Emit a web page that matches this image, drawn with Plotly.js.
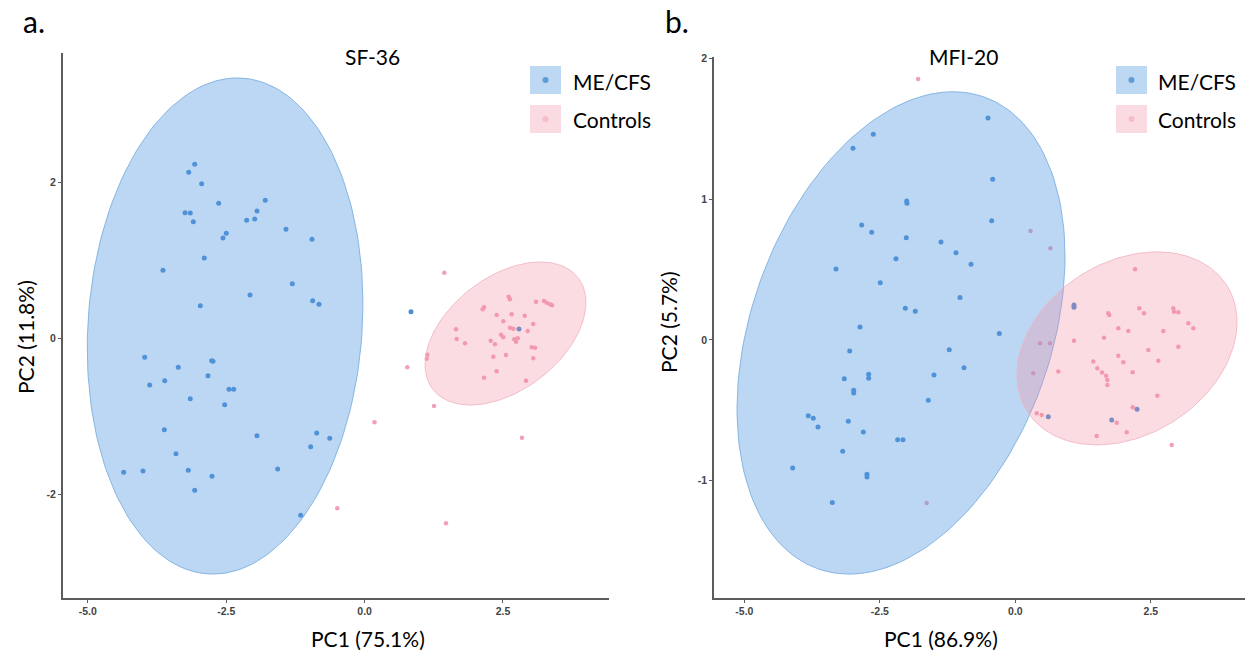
<!DOCTYPE html>
<html><head><meta charset="utf-8">
<script src="https://cdn.plot.ly/plotly-3.0.1.min.js"></script>
<style>html,body{margin:0;padding:0;background:#fff}#chart{width:1245px;height:651px}</style>
</head><body><div id="chart"></div>
<script>
// ---------- data ----------
const groupNames = ["ME/CFS", "Controls"];
const panelTitles = ["SF-36", "MFI-20"];
const panelLetters = ["a.", "b."];
const xTitles = ["PC1 (75.1%)", "PC1 (86.9%)"];
const yTitles = ["PC2 (11.8%)", "PC2 (5.7%)"];

const xTickVals = [-5.0, -2.5, 0.0, 2.5];
const xTickText = ["-5.0", "-2.5", "0.0", "2.5"];
const sf36YTickVals = [-2, 0, 2];
const sf36YTickText = ["-2", "0", "2"];
const mfi20YTickVals = [-1, 0, 1, 2];
const mfi20YTickText = ["-1", "0", "1", "2"];

// SF-36 ME/CFS scores
const sf36MecfsPC1 = [-3.069,-3.177,-2.943,-2.636,-1.794,-3.244,-3.149,-1.944,-2.130,-1.985,-3.094,-2.558,-2.498,-1.420,-0.950,-2.896,-3.642,-1.306,-2.070,-2.968,-0.938,-0.824,-3.972,-3.365,-2.762,-2.738,-2.829,-3.882,-3.610,-2.449,-2.365,-3.149,-2.527,-3.618,-1.944,-0.865,-0.630,-0.974,-3.407,-1.570,-4.352,-4.003,-3.185,-2.757,-3.069,-1.154,0.838,2.789];
const sf36MecfsPC2 = [2.227,2.124,1.978,1.727,1.765,1.606,1.603,1.628,1.509,1.526,1.491,1.282,1.342,1.394,1.265,1.026,0.868,0.696,0.551,0.414,0.478,0.432,-0.247,-0.376,-0.291,-0.299,-0.483,-0.603,-0.547,-0.658,-0.658,-0.778,-0.855,-1.176,-1.253,-1.218,-1.286,-1.394,-1.483,-1.679,-1.722,-1.705,-1.696,-1.773,-1.953,-2.273,0.337,0.115];
// SF-36 control scores
const sf36CtrlPC1 = [1.440,0.771,1.254,2.843,0.179,-0.493,1.470,2.603,2.626,2.133,2.157,3.096,3.241,3.289,3.349,3.385,2.386,2.657,2.892,2.505,1.651,2.626,2.686,3.047,2.946,2.464,2.505,2.704,2.766,2.735,1.664,1.814,2.278,2.355,3.018,3.078,1.133,1.122,2.325,2.554,3.047,2.386,2.157,2.915];
const sf36CtrlPC2 = [0.837,-0.376,-0.872,-1.278,-1.081,-2.183,-2.376,0.529,0.496,0.368,0.394,0.465,0.474,0.453,0.432,0.419,0.295,0.304,0.286,0.214,0.112,0.132,0.119,0.179,0.090,0.042,0.009,-0.017,-0.004,-0.047,-0.013,-0.068,-0.035,-0.081,-0.119,-0.124,-0.214,-0.265,-0.240,-0.218,-0.260,-0.427,-0.509,-0.547];

// MFI-20 ME/CFS scores
const mfi20MecfsPC1 = [-0.506,-2.622,-2.996,-0.419,-2.006,-2.000,-0.437,-2.836,-2.651,-2.013,-1.373,-1.096,-2.203,-0.819,-3.310,-2.493,-1.022,-2.031,-1.847,-2.867,-0.297,-1.220,-3.057,-0.948,-2.707,-2.707,-3.157,-1.502,-2.983,-2.983,-1.607,-3.821,-3.729,-3.642,-3.083,-2.806,-2.172,-2.074,-3.186,-4.109,-2.738,-2.738,-3.378,1.081,1.081,0.607,2.244,1.777];
const mfi20MecfsPC2 = [1.578,1.462,1.362,1.142,0.988,0.972,0.848,0.817,0.765,0.727,0.697,0.620,0.578,0.538,0.505,0.407,0.301,0.225,0.204,0.092,0.045,-0.069,-0.078,-0.197,-0.244,-0.272,-0.275,-0.249,-0.358,-0.377,-0.429,-0.538,-0.557,-0.618,-0.578,-0.654,-0.709,-0.709,-0.791,-0.910,-0.955,-0.974,-1.156,0.249,0.233,-0.545,-0.493,-0.569];
// MFI-20 control scores
const mfi20CtrlPC1 = [2.207,1.081,1.714,1.732,2.286,2.373,2.913,2.926,3.006,1.899,2.083,2.729,3.190,3.282,1.635,3.006,2.452,1.899,1.991,2.637,1.437,1.511,1.598,1.672,1.696,1.696,2.164,0.792,0.330,0.454,0.638,2.618,0.393,0.485,2.164,1.869,1.500,2.054,2.884,0.279,0.646,-1.795,-1.637];
const mfi20CtrlPC2 = [0.502,-0.005,0.190,0.178,0.225,0.190,0.225,0.201,0.197,0.083,0.064,0.064,0.119,0.083,0.016,-0.048,-0.071,-0.112,-0.158,-0.147,-0.154,-0.201,-0.232,-0.254,-0.284,-0.320,-0.230,-0.225,-0.237,-0.023,-0.023,-0.396,-0.521,-0.533,-0.478,-0.588,-0.682,-0.656,-0.746,0.775,0.652,1.855,-1.158];

// confidence ellipses: [centre x, centre y, top-vertex dx, top-vertex dy, horizontal conjugate half-width]
const sf36MecfsEllipse = [-2.52, 0.154, 0.22, 3.18, 2.48];
const sf36CtrlEllipse  = [2.545, 0.058, 0.632, 0.917, 1.309];
const mfi20MecfsEllipse = [-2.11, 0.050, 0.958, 1.714, 2.870];
const mfi20CtrlEllipse  = [2.059, -0.060, 0.553, 0.686, 1.953];

// ---------- styles ----------
const BLUE_PT = "rgb(78,140,210)";
const PINK_PT = "rgb(242,160,180)";
const BLUE_FILL = "rgba(86,156,226,0.40)";
const PINK_FILL = "rgba(244,140,162,0.30)";
const BLUE_LINE = "rgba(120,172,222,0.85)";
const PINK_LINE = "rgba(240,180,194,0.85)";
const W = 1245, H = 651;

function ellipse(p) {
  const xs = [], ys = [];
  const n = 180;
  for (let i = 0; i <= n; i++) {
    const t = 2 * Math.PI * i / n;
    xs.push(p[0] + p[2] * Math.cos(t) + p[4] * Math.sin(t));
    ys.push(p[1] + p[3] * Math.cos(t));
  }
  return {x: xs, y: ys};
}

function pts(x, y, color, size, ax, name) {
  return {type: "scatter", mode: "markers", x: x, y: y, xaxis: ax[0], yaxis: ax[1],
    name: name, showlegend: false, hoverinfo: "x+y",
    marker: {color: color, size: size, line: {width: 0}}};
}
function ell(p, fill, line, ax, name) {
  const e = ellipse(p);
  return {type: "scatter", mode: "lines", x: e.x, y: e.y, xaxis: ax[0], yaxis: ax[1],
    fill: "toself", fillcolor: fill, line: {color: line, width: 1}, name: name,
    showlegend: false, hoverinfo: "skip"};
}

const A = ["x", "y"], B = ["x2", "y2"];
const data = [
  pts(sf36MecfsPC1, sf36MecfsPC2, BLUE_PT, 5, A, groupNames[0]),
  pts(sf36CtrlPC1, sf36CtrlPC2, PINK_PT, 4.5, A, groupNames[1]),
  ell(sf36MecfsEllipse, BLUE_FILL, BLUE_LINE, A, groupNames[0]),
  ell(sf36CtrlEllipse, PINK_FILL, PINK_LINE, A, groupNames[1]),
  pts(mfi20MecfsPC1, mfi20MecfsPC2, BLUE_PT, 5, B, groupNames[0]),
  pts(mfi20CtrlPC1, mfi20CtrlPC2, PINK_PT, 4.5, B, groupNames[1]),
  ell(mfi20MecfsEllipse, BLUE_FILL, BLUE_LINE, B, groupNames[0]),
  ell(mfi20CtrlEllipse, PINK_FILL, PINK_LINE, B, groupNames[1])
];

const tickFont = {family: "Liberation Sans, Arial, sans-serif", size: 10.5, color: "#444", weight: "bold"};
function axis(extra) {
  return Object.assign({showgrid: false, zeroline: false, showline: true, linecolor: "#5c5c5c",
    linewidth: 1.6, ticks: "outside", ticklen: 3, tickwidth: 1, tickcolor: "#5c5c5c",
    tickfont: tickFont, automargin: false, fixedrange: true}, extra);
}

const px = v => v / W, py = v => 1 - v / H;
const textFont = {family: "Lato, 'Open Sans', sans-serif", size: 21, color: "#000"};

const annotations = [
  {text: panelLetters[0], x: px(21), y: py(41), xanchor: "left", yanchor: "bottom", font: {family: "Lato, sans-serif", size: 30, color: "#000"}},
  {text: panelLetters[1], x: px(663), y: py(41), xanchor: "left", yanchor: "bottom", font: {family: "Lato, sans-serif", size: 30, color: "#000"}},
  {text: panelTitles[0], x: px(343), y: py(57), yanchor: "middle", font: textFont},
  {text: panelTitles[1], x: px(1000), y: py(57), yanchor: "middle", font: textFont},
  {text: xTitles[0], x: px(309), y: py(638), yanchor: "middle", font: textFont},
  {text: xTitles[1], x: px(1000), y: py(638), yanchor: "middle", font: textFont},
  {text: yTitles[0], x: px(25), y: py(337), textangle: -90, xanchor: "center", yanchor: "middle", font: textFont},
  {text: yTitles[1], x: px(668), y: py(322), textangle: -90, xanchor: "center", yanchor: "middle", font: textFont},
  {text: groupNames[0], x: px(571), y: py(81), xanchor: "left", yanchor: "middle", font: textFont},
  {text: groupNames[1], x: px(571), y: py(120), xanchor: "left", yanchor: "middle", font: textFont},
  {text: groupNames[0], x: px(1156), y: py(81), xanchor: "left", yanchor: "middle", font: textFont},
  {text: groupNames[1], x: px(1156), y: py(120), xanchor: "left", yanchor: "middle", font: textFont}
].map(a => Object.assign({xref: "paper", yref: "paper", showarrow: false}, a));

const shapes = [];
function legendKey(x0, y0, fill, dot) {
  shapes.push({type: "rect", xref: "paper", yref: "paper", x0: px(x0), x1: px(x0 + 31), y0: py(y0 + 28), y1: py(y0),
    fillcolor: fill, line: {width: 0}});
  shapes.push({type: "circle", xref: "paper", yref: "paper", x0: px(x0 + 12.5), x1: px(x0 + 18.5), y0: py(y0 + 17), y1: py(y0 + 11),
    fillcolor: dot, line: {width: 0}});
}
legendKey(530, 66, "rgb(189,216,242)", "rgb(95,155,215)");
legendKey(530, 105, "rgb(251,219,226)", "rgb(245,188,202)");
legendKey(1116, 66, "rgb(189,216,242)", "rgb(95,155,215)");
legendKey(1116, 105, "rgb(251,219,226)", "rgb(245,188,202)");

const layout = {
  width: W, height: H, margin: {l: 0, r: 0, t: 0, b: 0},
  paper_bgcolor: "#fff", plot_bgcolor: "rgba(0,0,0,0)", showlegend: false,
  xaxis: axis({domain: [px(62.5), px(609)], range: [-5.457, 4.415], anchor: "y", tickvals: xTickVals, ticktext: xTickText}),
  yaxis: axis({domain: [py(598), py(53)], range: [-3.333, 3.654], anchor: "x", tickvals: sf36YTickVals, ticktext: sf36YTickText}),
  xaxis2: axis({domain: [px(713.7), 1], range: [-5.566, 4.236], anchor: "y2", tickvals: xTickVals, ticktext: xTickText}),
  yaxis2: axis({domain: [py(598), py(57)], range: [-1.834, 2.011], anchor: "x2", tickvals: mfi20YTickVals, ticktext: mfi20YTickText}),
  annotations: annotations,
  shapes: shapes
};

Plotly.newPlot("chart", data, layout, {staticPlot: true, displayModeBar: false});
</script>
</body></html>
